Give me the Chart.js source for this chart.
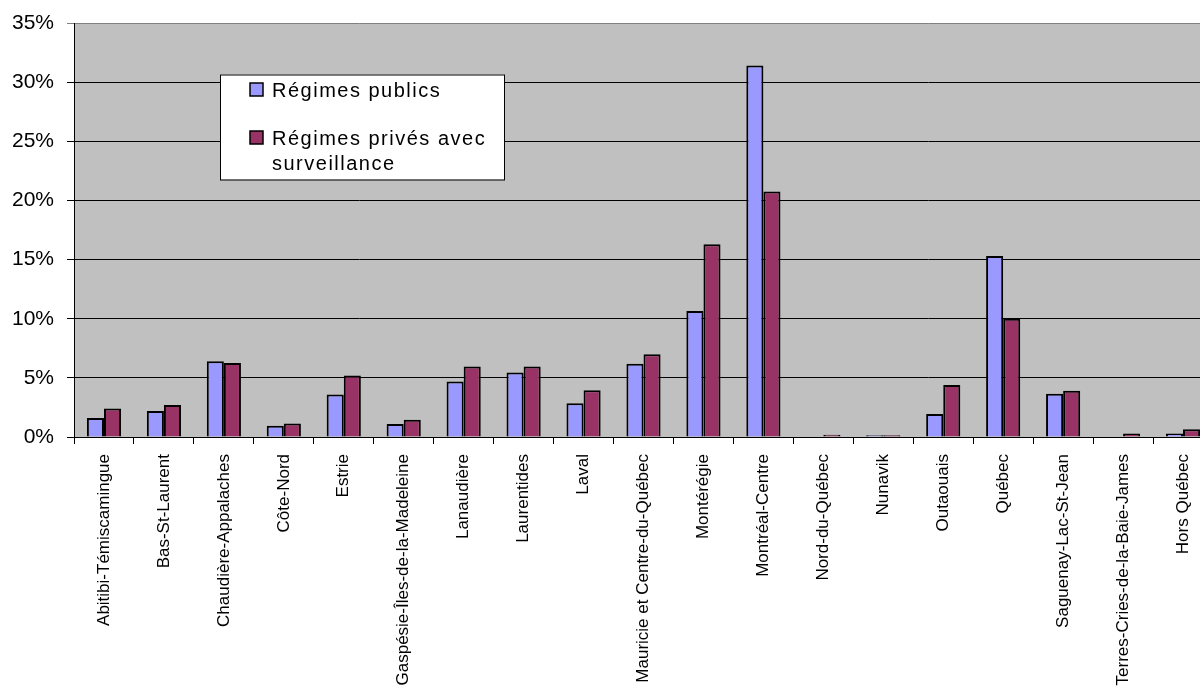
<!DOCTYPE html>
<html>
<head>
<meta charset="utf-8">
<script src="https://cdn.jsdelivr.net/npm/chart.js@4"></script>
<style>
    html, body { margin: 0; padding: 0; background: #fff; overflow: hidden; }
    #wrap { width: 1214px; height: 686px; }
</style>
</head>
<body>
<div id="wrap"><canvas id="bar-chart"></canvas></div>
<script>
const FONT = "Arial, 'Liberation Sans', sans-serif";
const PUBLICCOLOR = "#9999FF";
const PRIVATECOLOR = "#993366";
const PLOTCOLOR = "#C0C0C0";

const regions = [
    "Abitibi-Témiscamingue", "Bas-St-Laurent", "Chaudière-Appalaches", "Côte-Nord", "Estrie",
    "Gaspésie-Îles-de-la-Madeleine", "Lanaudière", "Laurentides", "Laval", "Mauricie et Centre-du-Québec",
    "Montérégie", "Montréal-Centre", "Nord-du-Québec", "Nunavik", "Outaouais",
    "Québec", "Saguenay-Lac-St-Jean", "Terres-Cries-de-la-Baie-James", "Hors Québec"
];
const publicPct = [1.6, 2.2, 6.4, 0.95, 3.6, 1.1, 4.7, 5.45, 2.85, 6.2, 10.65, 31.4, 0, 0.15, 1.95, 15.3, 3.65, 0, 0.3];
const privatePct = [2.4, 2.7, 6.25, 1.15, 5.2, 1.45, 5.95, 5.95, 3.95, 7.0, 16.3, 20.75, 0.2, 0.15, 4.4, 10.0, 3.9, 0.3, 0.65];
const seriesNames = ["Régimes publics", ["Régimes privés avec", "surveillance"]];

// grey plot background behind the grid
const plotBackground = {
    id: "plotBackground",
    beforeDraw(chart) {
        const { ctx, chartArea: a } = chart;
        ctx.save();
        ctx.fillStyle = PLOTCOLOR;
        ctx.fillRect(a.left, a.top, a.right - a.left, a.bottom - a.top);
        ctx.restore();
    }
};

// boxed legend sitting inside the plot
const boxLegend = {
    id: "boxLegend",
    afterDraw(chart) {
        const ctx = chart.ctx;
        const x = 220, y = 74.5, w = 284, h = 105;
        ctx.save();
        ctx.fillStyle = "#fff";
        ctx.fillRect(x, y, w, h);
        ctx.strokeStyle = "#000";
        ctx.lineWidth = 1;
        ctx.strokeRect(x + 0.5, y + 0.5, w, h);
        ctx.font = "20px " + FONT;
        ctx.letterSpacing = "1.5px";
        ctx.textBaseline = "alphabetic";
        const rows = [97, 145];
        chart.data.datasets.forEach((ds, i) => {
            const top = rows[i] - 14;
            ctx.fillStyle = ds.backgroundColor;
            ctx.fillRect(250, top, 13, 13);
            ctx.lineWidth = 1.5;
            ctx.strokeStyle = "#000";
            ctx.strokeRect(250, top, 13, 13);
            ctx.fillStyle = "#000";
            const lines = [].concat(ds.label);
            lines.forEach((t, j) => ctx.fillText(t, 272, rows[i] + j * 25));
        });
        ctx.restore();
    }
};

const ctx = document.querySelector("#bar-chart").getContext("2d");
const configuration = {
    type: "bar",
    data: {
        labels: regions,
        datasets: [{
            label: seriesNames[0],
            data: publicPct,
            backgroundColor: PUBLICCOLOR,
            borderColor: "#000",
            borderWidth: 2
        }, {
            label: seriesNames[1],
            data: privatePct,
            backgroundColor: PRIVATECOLOR,
            borderColor: "#000",
            borderWidth: 2
        }]
    },
    options: {
        responsive: true,
        maintainAspectRatio: false,
        animation: false,
        categoryPercentage: 0.57,
        barPercentage: 1,
        layout: { padding: { top: 23, right: 1, left: 0, bottom: 0 } },
        scales: {
            x: {
                grid: {
                    offset: true,
                    drawOnChartArea: false,
                    color: "#000",
                    tickLength: 7
                },
                border: { color: "#000", width: 1 },
                ticks: {
                    autoSkip: false,
                    minRotation: 90,
                    maxRotation: 90,
                    padding: 10,
                    color: "#000",
                    font: { family: FONT, size: 17 }
                },
                afterFit(scale) {
                    scale.height = 249;
                    scale.paddingLeft = 0;
                    scale.paddingRight = 0;
                }
            },
            y: {
                min: 0,
                max: 35,
                grid: {
                    color: (c) => c.tick && c.tick.value === 35 ? "#808080" : "#000",
                    tickLength: 7,
                    lineWidth: 1
                },
                border: { color: "#000", width: 1 },
                ticks: {
                    stepSize: 5,
                    padding: 13,
                    color: "#000",
                    font: { family: FONT, size: 21 },
                    callback: (v) => v + "%"
                },
                afterFit(scale) {
                    scale.width = 74;
                    scale.paddingTop = 0;
                    scale.paddingBottom = 0;
                }
            }
        },
        plugins: {
            legend: { display: false },
            tooltip: { enabled: false }
        }
    },
    plugins: [plotBackground, boxLegend]
};
new Chart(ctx, configuration);
</script>
</body>
</html>
